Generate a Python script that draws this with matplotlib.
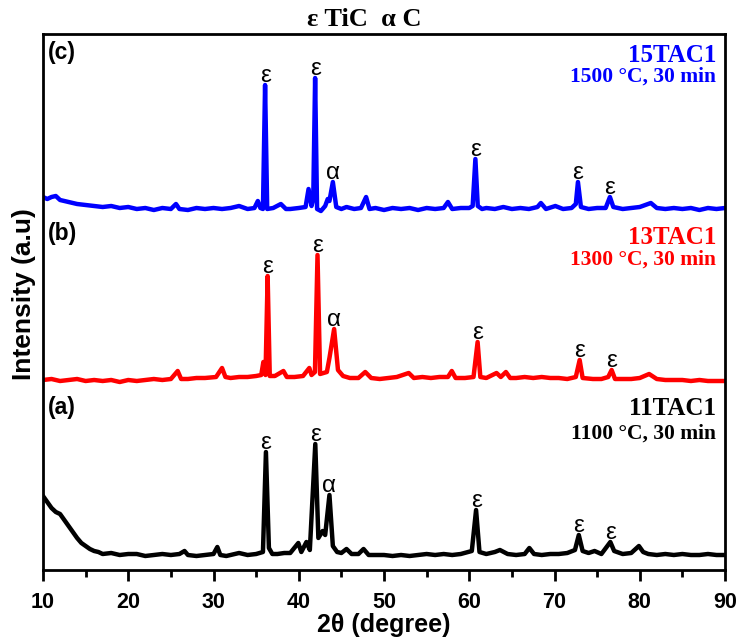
import numpy as np
import matplotlib.pyplot as plt

# XRD patterns, 2theta (deg) vs intensity above each pattern's own baseline (a.u.)
tt_11 = [10.0, 10.5, 11.0, 11.5, 12.0, 12.5, 13.0, 13.5, 14.0, 14.5, 15.0, 15.5, 16.0, 16.5,
         17.0, 18.0, 19.0, 20.0, 21.0, 22.0, 23.0, 24.0, 25.0, 26.0, 26.6, 27.0, 28.0, 29.0,
         30.0, 30.45, 30.8, 31.5, 32.0, 33.0, 34.0, 35.0, 35.8, 36.15, 36.5, 36.9, 37.5, 38.3,
         39.0, 39.95, 40.3, 40.9, 41.3, 41.94, 42.3, 42.8, 43.1, 43.6, 44.0, 44.5, 45.0, 45.6,
         46.2, 47.0, 47.6, 48.2, 49.0, 50.0, 51.0, 52.0, 53.0, 54.0, 55.0, 56.0, 57.0, 58.0,
         59.0, 60.3, 60.8, 61.2, 62.0, 63.0, 63.6, 64.5, 65.5, 66.5, 67.05, 67.6, 68.5, 69.5,
         70.5, 71.5, 72.4, 72.85, 73.3, 74.0, 74.7, 75.5, 76.55, 77.0, 78.0, 79.0, 79.9, 80.4,
         81.0, 82.0, 83.0, 84.0, 85.0, 86.0, 87.0, 88.0, 89.0, 90.0]
int_11 = [60, 54, 48, 44, 42, 36, 30, 24, 18, 13, 10, 7, 5, 4,
          2, 3, 1, 2, 2, 0, 1, 2, 1, 2, 5, 1, 0, 1,
          2, 9, 1, 0, 1, 3, 1, 2, 4, 104, 8, 2, 2, 3,
          3, 13, 4, 14, 6, 112, 18, 25, 21, 61, 10, 4, 3, 7,
          2, 2, 7, 1, 1, 1, 0, 1, 0, 1, 2, 1, 2, 1,
          2, 5, 46, 4, 2, 4, 6, 2, 1, 2, 8, 2, 1, 2,
          2, 3, 6, 21, 5, 3, 5, 2, 14, 5, 2, 3, 10, 4,
          2, 1, 2, 1, 2, 1, 1, 2, 1, 1]

tt_13 = [10.0, 11.0, 12.0, 13.0, 14.0, 15.0, 16.0, 17.0, 18.0, 19.0, 20.0, 21.0, 22.0, 23.0,
         24.0, 25.0, 25.8, 26.2, 27.0, 28.0, 29.0, 30.3, 31.0, 31.4, 32.0, 33.0, 34.0, 35.0,
         35.6, 35.85, 36.1, 36.35, 36.6, 37.2, 38.2, 38.6, 39.5, 40.5, 41.24, 41.5, 41.9, 42.2,
         42.5, 43.3, 43.6, 44.15, 44.6, 45.2, 46.0, 47.0, 47.8, 48.5, 49.5, 50.5, 51.5, 52.9,
         53.5, 54.5, 55.5, 56.5, 57.5, 57.95, 58.4, 59.5, 60.5, 60.98, 61.3, 62.0, 63.2, 63.7,
         64.3, 64.8, 65.5, 66.5, 67.5, 68.5, 69.5, 70.5, 71.5, 72.5, 72.95, 73.3, 74.5, 75.5,
         76.3, 76.7, 77.1, 78.0, 79.0, 80.0, 81.1, 82.0, 83.0, 84.0, 85.0, 86.0, 87.0, 88.0,
         89.0, 90.0]
int_13 = [0, 1, -1, 0, 1, -1, 0, -1, 0, -2, 0, -1, 0, 1,
          0, 1, 9, 1, 1, 2, 2, 3, 12, 3, 2, 3, 3, 4,
          5, 18, 5, 104, 4, 4, 9, 3, 3, 4, 12, 5, 8, 125,
          6, 8, 22, 51, 10, 4, 2, 2, 8, 2, 1, 2, 3, 7,
          2, 3, 2, 3, 3, 9, 2, 2, 3, 38, 3, 2, 7, 3,
          8, 2, 2, 3, 2, 3, 2, 2, 1, 3, 20, 2, 1, 1,
          3, 10, 1, 1, 1, 2, 6, 1, 0, 0, 0, -1, 0, -1,
          -1, -1]

tt_15 = [10.0, 10.5, 11.0, 11.5, 12.0, 13.0, 14.0, 15.0, 16.0, 17.0, 18.0, 19.0, 20.0, 21.0,
         22.0, 23.0, 24.0, 25.0, 25.6, 26.0, 27.0, 28.0, 29.0, 30.0, 31.0, 32.0, 33.0, 34.0,
         34.8, 35.2, 35.5, 35.8, 36.05, 36.3, 37.0, 37.9, 38.5, 39.0, 40.0, 40.8, 41.15, 41.5,
         41.7, 41.92, 42.15, 42.6, 43.1, 43.4, 43.6, 44.0, 44.4, 45.0, 45.6, 46.5, 47.3, 47.9,
         48.3, 49.0, 50.0, 51.0, 52.0, 53.0, 54.0, 55.0, 56.0, 57.0, 57.5, 58.0, 59.0, 60.0,
         60.4, 60.72, 61.0, 61.5, 62.0, 63.0, 64.0, 65.0, 66.0, 67.0, 68.0, 68.4, 69.0, 70.1,
         71.0, 72.0, 72.5, 72.75, 73.1, 74.0, 75.0, 76.0, 76.5, 76.9, 78.0, 79.0, 80.0, 81.3,
         82.0, 83.0, 84.0, 85.0, 86.0, 87.0, 88.0, 89.0, 90.0]
int_15 = [12, 10, 12, 13, 9, 7, 5, 4, 3, 2, 3, 1, 2, 0,
          1, -1, 1, 0, 5, 0, -1, 1, 0, 1, 0, 1, 3, 0,
          1, 8, 1, 0, 124, 0, 1, 5, 0, 0, 1, 2, 20, 3,
          10, 131, 0, -2, 3, 10, 8, 27, 2, 0, 2, 0, 1, 12,
          0, 1, -1, 1, 0, 1, -1, 1, 0, 1, 7, 0, 1, 1,
          3, 50, 3, 0, 1, 0, 2, 0, 1, 0, 2, 6, 0, 3,
          0, 1, 5, 27, 2, 0, 1, 1, 12, 2, 0, 1, 2, 6,
          1, 0, 1, 0, 1, -1, 1, 0, 1]

# labelled reflections (2theta, phase symbol)
peaks_11 = [(36.15, 'ε'), (41.94, 'ε'), (43.6, 'α'), (60.8, 'ε'), (72.85, 'ε'), (76.55, 'ε')]
peaks_13 = [(36.35, 'ε'), (42.2, 'ε'), (44.15, 'α'), (60.98, 'ε'), (72.95, 'ε'), (76.7, 'ε')]
peaks_15 = [(36.05, 'ε'), (41.92, 'ε'), (44.0, 'α'), (60.72, 'ε'), (72.75, 'ε'), (76.5, 'ε')]

names = ['11TAC1', '13TAC1', '15TAC1']
conds = ['1100 °C, 30 min', '1300 °C, 30 min', '1500 °C, 30 min']
panels = ['(a)', '(b)', '(c)']

sans = ['Liberation Sans', 'DejaVu Sans']
serif = ['Liberation Serif', 'DejaVu Serif']

fig = plt.figure(figsize=(7.38, 6.4), dpi=100)
ax = fig.add_axes([43 / 738, 70 / 640, 682 / 738, 536 / 640])

traces = [(tt_11, int_11, peaks_11, 'black', 14),
          (tt_13, int_13, peaks_13, 'red', 190),
          (tt_15, int_15, peaks_15, 'blue', 361)]

for tt, inten, pk, col, off in traces:
    y = np.array(inten, dtype=float) + off
    ax.plot(tt, y, color=col, lw=3.2, solid_joinstyle='round')
    for pos, sym in pk:
        top = y[tt.index(pos)]
        ax.annotate(sym, (pos, top), xytext=(0, 2.5), textcoords='offset points',
                    ha='center', va='baseline', fontsize=17.5, family=sans)

ax.set_xlim(10, 90)
ax.set_ylim(0, 536)
ax.set_xticks(np.arange(10, 91, 10))
ax.set_xticks(np.arange(15, 90, 10), minor=True)
ax.set_yticks([])
ax.tick_params(axis='x', which='major', direction='out', length=8, width=2, pad=8)
ax.tick_params(axis='x', which='minor', direction='out', length=5, width=2)
for lab in ax.get_xticklabels():
    lab.set_family(sans)
    lab.set_fontweight('bold')
    lab.set_fontsize(15.5)
for sp in ax.spines.values():
    sp.set_linewidth(2)

ax.set_xlabel('2θ (degree)', fontsize=18, fontweight='bold', family=sans, labelpad=0)

# panel letters and sample names
for lab, yy in zip(panels, [0.304, 0.6287, 0.9646]):
    ax.text(0.007, yy, lab, transform=ax.transAxes, ha='left', va='center',
            fontsize=16.5, fontweight='bold', family=sans)
for nm, cd, col, y1, y2 in zip(names, conds, ['black', 'red', 'blue'],
                               [0.289, 0.608, 0.948], [0.246, 0.569, 0.912]):
    ax.text(0.9868, y1, nm, transform=ax.transAxes, ha='right', va='baseline',
            fontsize=18, fontweight='bold', family=serif, color=col)
    ax.text(0.9868, y2, cd, transform=ax.transAxes, ha='right', va='baseline',
            fontsize=15.5, fontweight='bold', family=serif, color=col)

fig.text(24 / 738, 1 - 294 / 640, 'Intensity (a.u)', rotation=90, ha='center', va='center',
         fontsize=19, fontweight='bold', family=sans)
fig.text(364 / 738, 1 - 26 / 640, 'ε TiC  α C', ha='center', va='baseline',
         fontsize=19, fontweight='bold', family=serif)

fig.savefig('out.png', dpi=100)
